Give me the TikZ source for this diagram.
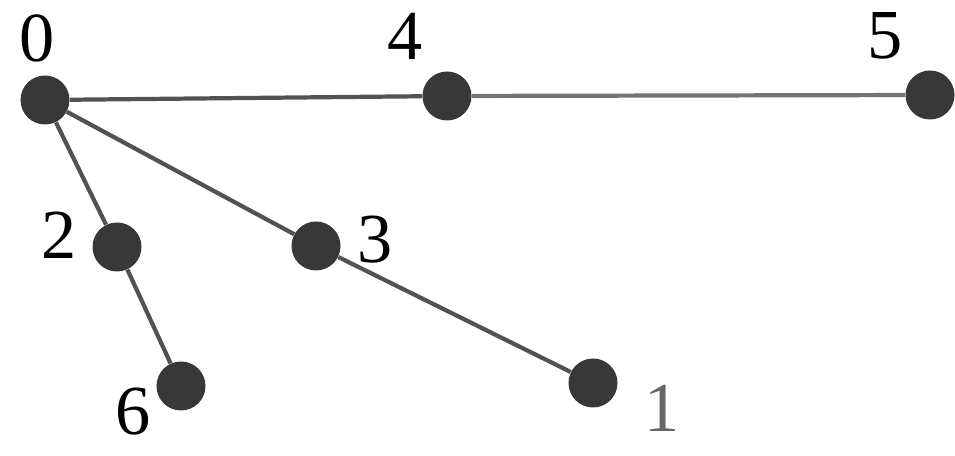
\documentclass[tikz,border=0pt]{standalone}
\usepackage{fontspec}
\setmainfont{Liberation Serif}

\begin{document}
\begin{tikzpicture}[
    every node/.style={font=\fontsize{40}{40}\selectfont, inner sep=1pt},
    vertex/.style={circle, fill=black!78, minimum size=0.98cm, inner sep=0pt},
    edge/.style={draw=black!68, line width=2.4pt}
]

\useasboundingbox (0,0) rectangle (19.1,9.12);

% Vertices
\node[vertex] (v0) at (0.90, 7.12) {};
\node[vertex] (v4) at (8.94, 7.20) {};
\node[vertex] (v5) at (18.60, 7.22) {};
\node[vertex] (v2) at (2.34, 4.18) {};
\node[vertex] (v3) at (6.32, 4.20) {};
\node[vertex] (v6) at (3.62, 1.40) {};
\node[vertex] (v1) at (11.86, 1.46) {};

% Labels
\node (l0) at (0.74, 8.36) {0};
\node (l4) at (8.10, 8.40) {4};
\node (l5) at (17.70, 8.40) {5};
\node (l2) at (1.18, 4.42) {2};
\node (l3) at (7.50, 4.32) {3};
\node (l6) at (2.66, 0.88) {6};
\node[text=black!60] (l1) at (13.24, 0.96) {1};

% Edges
\draw[edge] (v0) -- (v4);
\draw[edge, draw=black!55] (v4) -- (v5);
\draw[edge] (v0) -- (v2);
\draw[edge] (v2) -- (v6);
\draw[edge] (v0) -- (v3);
\draw[edge] (v3) -- (v1);

\end{tikzpicture}
\end{document}
